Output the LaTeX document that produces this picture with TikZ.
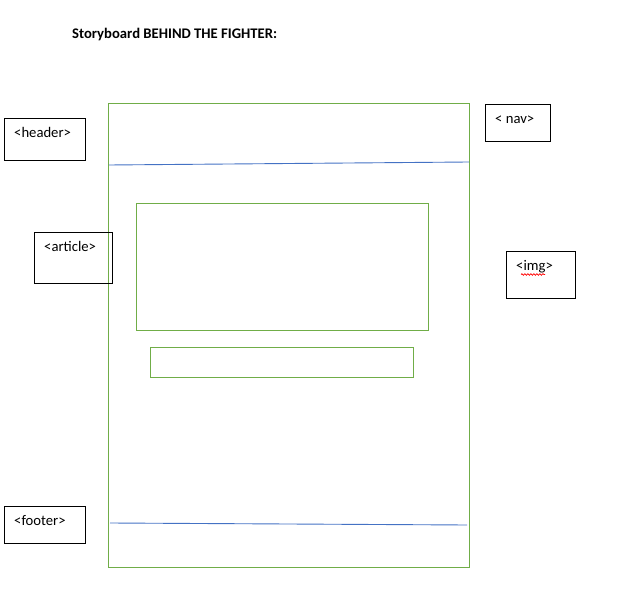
\documentclass[tikz,border=0pt]{standalone}
\usepackage{fontspec}
\setmainfont{Carlito}
\usetikzlibrary{decorations.pathmorphing}
\definecolor{lgreen}{RGB}{112,173,71}
\definecolor{lblue}{RGB}{68,114,196}
\tikzset{
  tagbox/.style={draw=black, line width=1pt, inner sep=0pt},
  greenbox/.style={draw=lgreen, line width=0.9pt, inner sep=0pt},
  tagtext/.style={anchor=base west, inner sep=0pt, font=\fontsize{14.67}{16}\selectfont},
  divider/.style={draw=lblue, line width=0.9pt}
}
\begin{document}
\begin{tikzpicture}[x=1pt,y=-1pt]
\useasboundingbox (0,0) rectangle (642,609);
% title
\node[anchor=base west, inner sep=0pt, font=\fontsize{14.67}{16}\selectfont\bfseries] (title) at (72,38.5) {Storyboard BEHIND THE FIGHTER:};
% page outline
\node[greenbox, minimum width=361pt, minimum height=464pt] (page) at (288.5,335) {};
\coordinate (h1) at (109,165);
\coordinate (h2) at (469,162);
\draw[divider] (h1) -- (h2);
\coordinate (f1) at (110,523);
\coordinate (f2) at (467,525);
\draw[divider] (f1) -- (f2);
% inner boxes
\node[greenbox, minimum width=292pt, minimum height=127pt] (imgarea) at (282,266.5) {};
\node[greenbox, minimum width=263pt, minimum height=30pt] (caption) at (281.5,362) {};
% tag boxes
\node[tagbox, minimum width=81pt, minimum height=42pt] (header) at (44.5,140) {};
\node[tagtext] (headert) at (14,138) {<header>};
\node[tagbox, minimum width=65pt, minimum height=37pt] (nav) at (517.5,123.5) {};
\node[tagtext] (navt) at (495,124) {< nav>};
\node[tagbox, minimum width=78pt, minimum height=51pt] (article) at (73,258.5) {};
\node[tagtext] (articlet) at (44,252) {<article>};
\node[tagbox, minimum width=69pt, minimum height=47pt] (img) at (540.5,275.5) {};
\node[tagtext] (imgt) at (516,271) {<img>};
\coordinate (w1) at (521,274.5);
\coordinate (w2) at (545,274.5);
\draw[red, line width=0.7pt, decorate, decoration={snake, amplitude=0.8pt, segment length=3pt}] (w1) -- (w2);
\node[tagbox, minimum width=81pt, minimum height=37pt] (footer) at (44.5,524.5) {};
\node[tagtext] (footert) at (14,525) {<footer>};
\end{tikzpicture}
\end{document}
